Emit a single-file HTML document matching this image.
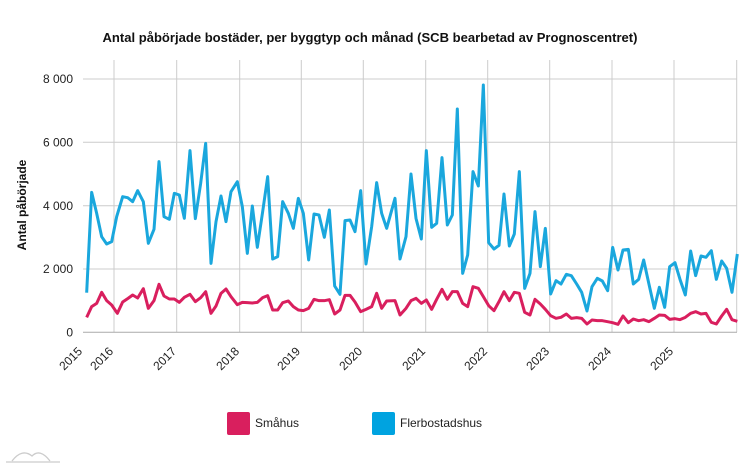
<!DOCTYPE html>
<html><head><meta charset="utf-8"><style>
html,body{margin:0;padding:0;background:#fff;}
svg{display:block;font-family:"Liberation Sans",sans-serif;}
</style></head><body>
<svg width="752" height="468" viewBox="0 0 752 468" xmlns="http://www.w3.org/2000/svg">
<rect width="752" height="468" fill="#fff"/>
<text x="370" y="42" text-anchor="middle" font-size="13" font-weight="bold" fill="#111" textLength="535" lengthAdjust="spacingAndGlyphs">Antal påbörjade bostäder, per byggtyp och månad (SCB bearbetad av Prognoscentret)</text>
<g stroke="#ccc" stroke-width="1">
<line x1="83" y1="79" x2="737" y2="79"/>
<line x1="83" y1="142.3" x2="737" y2="142.3"/>
<line x1="83" y1="205.7" x2="737" y2="205.7"/>
<line x1="83" y1="269" x2="737" y2="269"/>
<line x1="114" y1="60" x2="114" y2="332"/>
<line x1="176.7" y1="60" x2="176.7" y2="332"/>
<line x1="239.7" y1="60" x2="239.7" y2="332"/>
<line x1="301.3" y1="60" x2="301.3" y2="332"/>
<line x1="363.3" y1="60" x2="363.3" y2="332"/>
<line x1="425.7" y1="60" x2="425.7" y2="332"/>
<line x1="487.7" y1="60" x2="487.7" y2="332"/>
<line x1="549.7" y1="60" x2="549.7" y2="332"/>
<line x1="612" y1="60" x2="612" y2="332"/>
<line x1="674" y1="60" x2="674" y2="332"/>
<line x1="736.7" y1="60" x2="736.7" y2="332"/>
</g>
<line x1="83" y1="332.3" x2="737" y2="332.3" stroke="#aaa" stroke-width="1"/>
<g font-size="12" fill="#222" text-anchor="end">
<text x="73" y="83">8 000</text>
<text x="73" y="146.5">6 000</text>
<text x="73" y="210">4 000</text>
<text x="73" y="273">2 000</text>
<text x="73" y="336.5">0</text>
</g>
<text transform="translate(26,205) rotate(-90)" text-anchor="middle" font-size="12" font-weight="bold" fill="#111">Antal påbörjade</text>
<g font-size="12" fill="#222" text-anchor="end">
<text transform="translate(83,352) rotate(-45)">2015</text>
<text transform="translate(114,352) rotate(-45)">2016</text>
<text transform="translate(177,352) rotate(-45)">2017</text>
<text transform="translate(240,352) rotate(-45)">2018</text>
<text transform="translate(301,352) rotate(-45)">2019</text>
<text transform="translate(363,352) rotate(-45)">2020</text>
<text transform="translate(426,352) rotate(-45)">2021</text>
<text transform="translate(488,352) rotate(-45)">2022</text>
<text transform="translate(550,352) rotate(-45)">2023</text>
<text transform="translate(612,352) rotate(-45)">2024</text>
<text transform="translate(674,352) rotate(-45)">2025</text>
</g>
<g transform="translate(40,60) scale(0.33333)" fill="none" stroke-width="9" stroke-linejoin="round">
<polyline stroke="#1aa7dd" points="140,698 155,397 170,460 185,530 200,552 215,545 230,470 248,410 263,413 278,425 293,392 310,425 325,550 342,508 357,305 372,470 388,478 403,400 418,405 433,475 450,272 466,476 482,370 497,250 513,610 528,485 543,408 558,485 573,395 592,365 607,440 622,580 637,438 652,562 668,455 683,350 698,597 713,590 728,425 745,460 760,505 775,415 790,460 806,600 822,462 837,465 853,532 868,450 884,678 900,703 915,482 930,480 945,515 962,392 978,612 995,500 1010,368 1025,460 1040,505 1065,415 1080,597 1098,530 1113,342 1128,475 1144,537 1159,272 1175,502 1190,490 1206,293 1222,495 1237,465 1252,147 1268,640 1283,585 1299,335 1315,378 1330,75 1346,548 1362,567 1377,556 1392,402 1408,558 1423,522 1438,335 1454,685 1470,640 1485,455 1501,620 1516,505 1532,702 1548,662 1563,672 1579,643 1594,647 1610,672 1625,697 1641,753 1656,680 1672,655 1687,663 1703,692 1718,562 1734,630 1749,570 1765,568 1780,672 1796,658 1811,600 1827,673 1843,745 1858,682 1874,742 1889,620 1905,608 1920,658 1936,705 1952,573 1967,647 1983,588 1998,592 2014,572 2029,658 2045,603 2060,625 2076,697 2092,582"/>
<polyline stroke="#d91f5e" points="140,772 155,740 170,730 185,697 200,722 215,735 232,760 248,726 263,716 278,705 293,714 310,686 325,745 342,722 357,673 372,708 388,717 403,717 418,727 433,712 450,703 466,725 482,713 497,695 513,760 528,738 543,700 558,687 573,710 592,734 607,727 622,728 637,729 652,727 668,713 683,707 698,750 713,750 728,728 745,723 760,740 775,750 790,752 806,745 822,718 837,722 853,722 868,719 884,762 900,750 915,706 930,706 945,726 962,755 978,748 995,740 1010,700 1025,745 1040,723 1065,722 1080,765 1098,745 1113,722 1128,715 1144,730 1159,720 1175,748 1190,718 1206,688 1222,718 1237,695 1252,695 1268,730 1283,740 1299,680 1315,685 1330,710 1346,737 1362,752 1377,725 1392,695 1408,722 1423,697 1438,700 1454,757 1470,765 1485,718 1501,732 1516,748 1532,767 1548,775 1563,772 1579,762 1594,775 1610,773 1625,775 1641,792 1656,780 1672,782 1687,782 1703,785 1718,788 1734,793 1749,768 1765,788 1780,777 1796,782 1811,779 1827,785 1843,775 1858,765 1874,766 1889,778 1905,776 1920,779 1936,772 1952,760 1967,755 1983,762 1998,760 2014,787 2029,792 2045,768 2060,748 2076,779 2092,784"/>
</g>
<rect x="227" y="412" width="23" height="23" rx="2" fill="#d91f5e"/>
<text x="255" y="427" font-size="12" fill="#222">Småhus</text>
<rect x="372" y="412" width="23" height="23" rx="2" fill="#00a3e0"/>
<text x="400" y="427" font-size="12" fill="#222">Flerbostadshus</text>
<g fill="none" stroke="#ccc" stroke-width="1.3">
<path d="M6,462 L60,462"/>
<path d="M12,461 Q22,448 32,456 Q40,448 50,461"/>
</g>
</svg>
</body></html>
